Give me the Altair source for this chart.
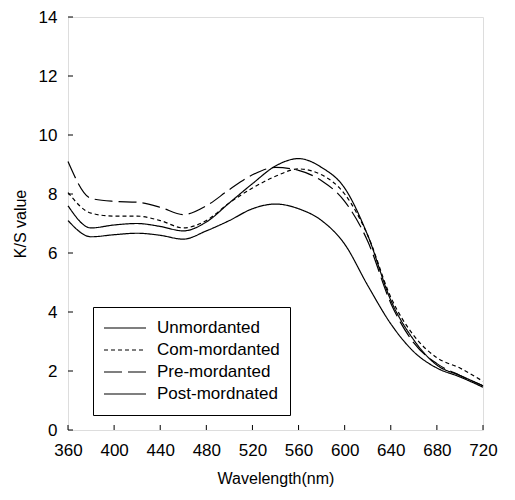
import altair as alt
import pandas as pd

wavelength = [360, 380, 400, 420, 440, 460, 480, 500, 520, 540, 560, 580, 600, 620, 640, 660, 680, 700, 720]
unmordanted = [7.1, 6.55, 6.62, 6.67, 6.6, 6.47, 6.75, 7.1, 7.5, 7.66, 7.5, 7.1, 6.3, 4.9, 3.6, 2.65, 2.1, 1.8, 1.45]
com_mordanted = [8.05, 7.35, 7.25, 7.25, 7.1, 6.85, 7.1, 7.7, 8.2, 8.6, 8.85, 8.65, 8.0, 6.6, 4.5, 3.2, 2.45, 2.1, 1.65]
pre_mordanted = [9.1, 7.85, 7.75, 7.72, 7.55, 7.3, 7.6, 8.15, 8.65, 8.9, 8.8, 8.45, 7.75, 6.4, 4.3, 2.95, 2.25, 1.85, 1.5]
post_mordnated = [7.6, 6.85, 6.95, 7.0, 6.9, 6.75, 7.05, 7.7, 8.35, 8.95, 9.2, 8.9, 8.2, 6.6, 4.4, 3.05, 2.2, 1.85, 1.5]

series_names = ["Unmordanted", "Com-mordanted", "Pre-mordanted", "Post-mordnated"]
series_values = [unmordanted, com_mordanted, pre_mordanted, post_mordnated]
dashes = [[1, 0], [4, 3], [18, 6], [1, 0]]

x_ticks = [360, 400, 440, 480, 520, 560, 600, 640, 680, 720]
y_ticks = [0, 2, 4, 6, 8, 10, 12, 14]

rows = []
for name, vals in zip(series_names, series_values):
    for w, v in zip(wavelength, vals):
        rows.append({"Wavelength": w, "KS": v, "Series": name})
df = pd.DataFrame(rows)

FONT = "Liberation Sans"
W, H = 415, 413

lines = alt.Chart(df).mark_line(color="black", strokeWidth=1.2, interpolate="monotone").encode(
    x=alt.X("Wavelength:Q", scale=alt.Scale(domain=[360, 720], nice=False),
            axis=alt.Axis(values=x_ticks, title="Wavelength(nm)", grid=False, ticks=False,
                          labelFontSize=17, labelPadding=12, titleFontSize=16, titleFontWeight="normal",
                          titlePadding=12, domain=False, labelFont=FONT, titleFont=FONT,
                          labelFlush=False, labelOverlap=False, labelColor="black", titleColor="black")),
    y=alt.Y("KS:Q", scale=alt.Scale(domain=[0, 14], nice=False),
            axis=alt.Axis(values=y_ticks, title="K/S value", grid=False, ticks=False,
                          labelFontSize=17, labelPadding=11, titleFontSize=16, titleFontWeight="normal",
                          titlePadding=10, domain=False, labelFont=FONT, titleFont=FONT,
                          labelFlush=False, labelOverlap=False, labelColor="black", titleColor="black")),
    strokeDash=alt.StrokeDash("Series:N", sort=series_names,
                              scale=alt.Scale(domain=series_names, range=dashes),
                              legend=alt.Legend(orient="none", legendX=25, legendY=290, title=None,
                                                symbolType="stroke", symbolSize=1764, symbolStrokeWidth=1.2,
                                                symbolStrokeColor="black", labelFontSize=17, labelFont=FONT,
                                                labelColor="black", strokeColor="black", fillColor="white",
                                                padding=10, clipHeight=22, labelOffset=10, rowPadding=0)),
    detail="Series:N",
)

xt = pd.DataFrame({"t": x_ticks})
yt = pd.DataFrame({"t": y_ticks})
xticks = alt.Chart(xt).mark_rule(color="black", strokeWidth=1).encode(
    x="t:Q", y=alt.value(H), y2=alt.value(H - 5))
yticks = alt.Chart(yt).mark_rule(color="black", strokeWidth=1).encode(
    y="t:Q", x=alt.value(0), x2=alt.value(5))

chart = alt.layer(lines, xticks, yticks).properties(
    width=W, height=H,
    autosize=alt.AutoSizeParams(type="none"),
    padding={"left": 60, "top": 9, "right": 20, "bottom": 68},
).configure_view(stroke="black", strokeWidth=1.2).configure(background="white")

chart.save("out.html", embed_options={"renderer": "svg", "actions": False})
